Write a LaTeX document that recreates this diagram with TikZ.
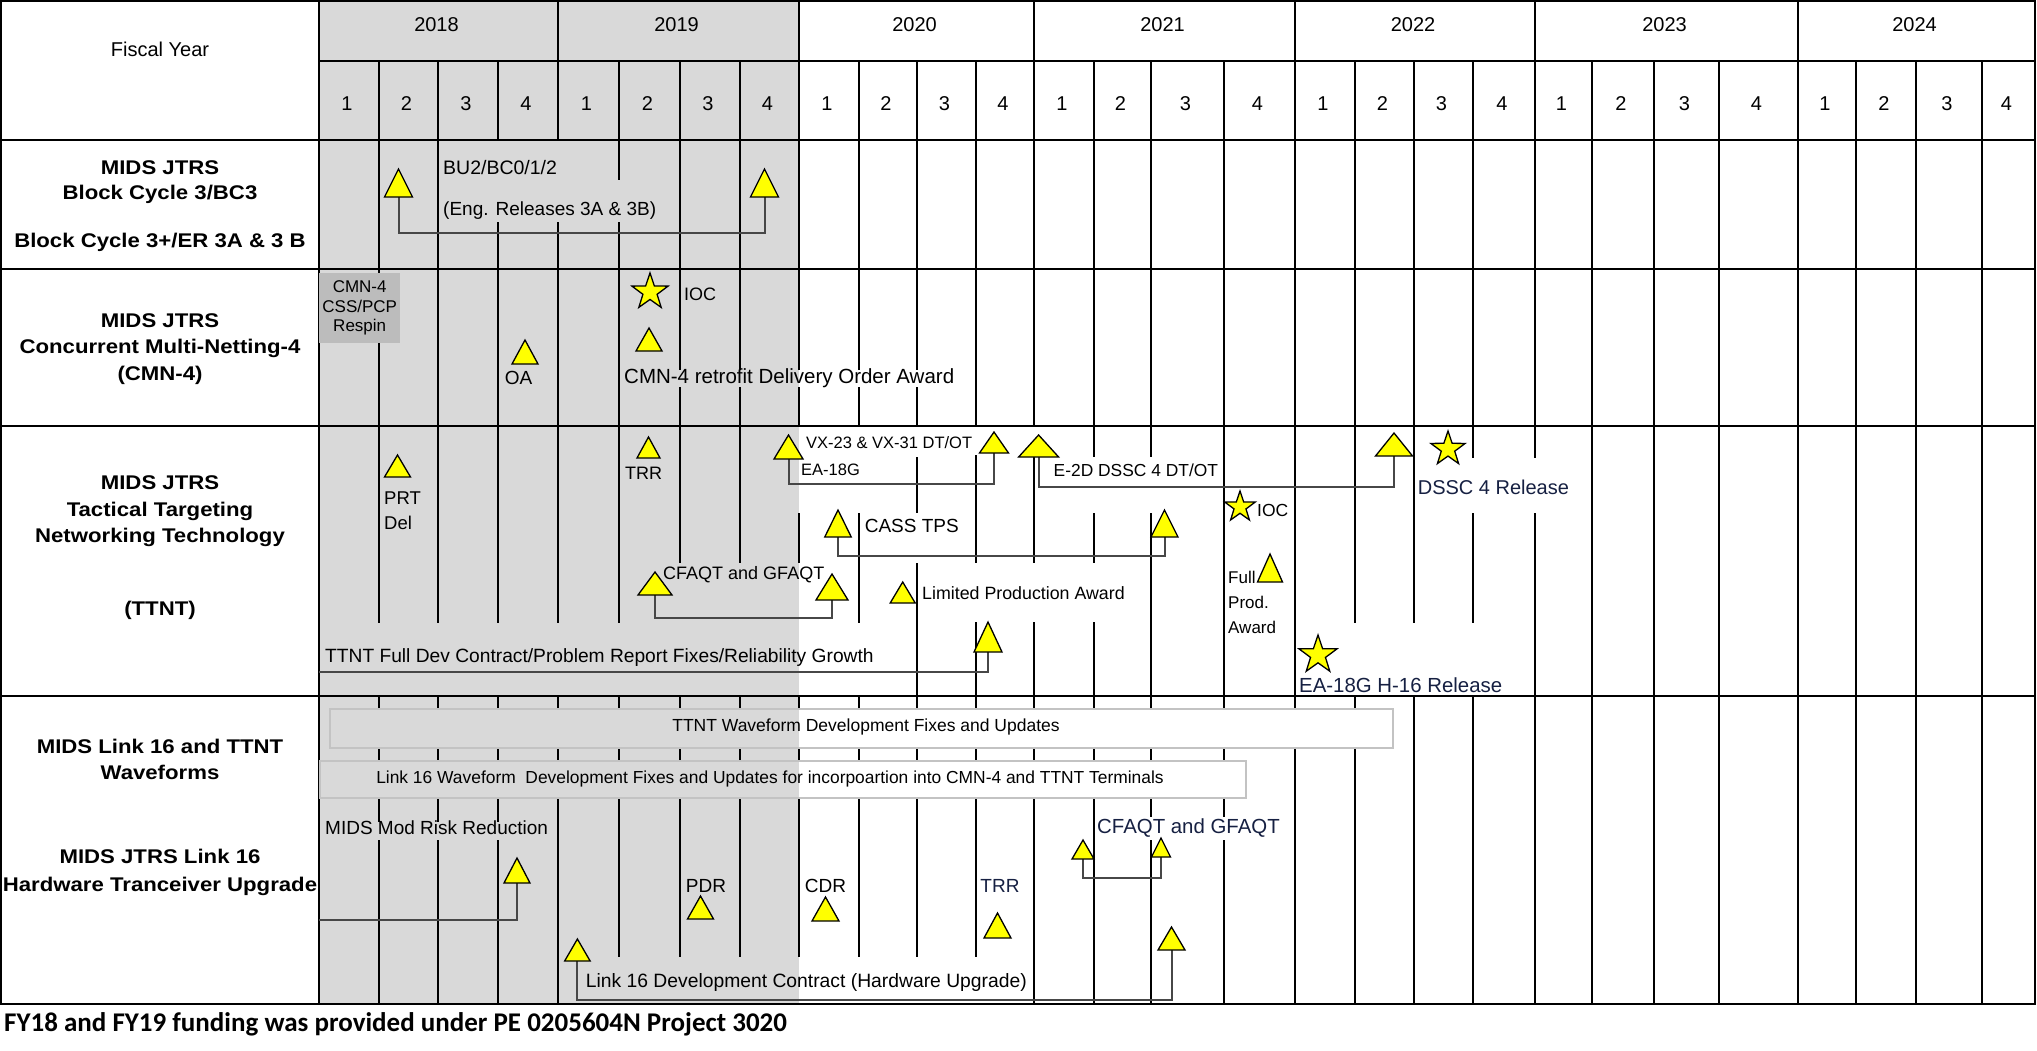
\documentclass[tikz,border=0pt]{standalone}
\usepackage{fontspec}
\setmainfont{Liberation Sans}
\newfontfamily\lblfam{Liberation Sans}[FakeStretch=1.12]
\newfontfamily\footfam{Carlito}
\usetikzlibrary{shapes.geometric}
\definecolor{bggray}{RGB}{217,217,217}
\definecolor{boxgray}{RGB}{188,188,188}
\definecolor{navy}{RGB}{22,32,66}
\definecolor{bargray}{RGB}{195,195,195}
\definecolor{myyellow}{RGB}{255,255,0}
\newcommand\fsz[1]{\fontsize{#1}{#1}\selectfont}
\newcommand\mtri[5]{%
  \coordinate (#1) at (#2,#3);
  \filldraw[tri] (#1) ++({-(#4)/2},0) -- ++({(#4)/2},{-(#5)}) -- ++({(#4)/2},{#5}) -- cycle;}
\begin{document}
\begin{tikzpicture}[x=1pt,y=-1pt,
  gridl/.style={line width=1.7pt},
  rowl/.style={line width=2.6pt},
  tri/.style={fill=myyellow,draw=black,line width=1.3pt,line join=miter},
  mstar/.style={star,star points=5,star point ratio=2.55,fill=myyellow,draw=black,line width=1.3pt,inner sep=0pt},
  brk/.style={draw=black!72,line width=2pt},
  lbl/.style={font=\lblfam\bfseries\fsz{19.8},inner sep=0pt,anchor=center},
  txt/.style={inner sep=0pt,anchor=west},
  ctr/.style={inner sep=0pt,anchor=center},
  bar/.style={draw=bargray,line width=2pt,inner sep=0pt,anchor=north west}]
\useasboundingbox (0,0) rectangle (2037,1050);
\fill[white] (0,0) rectangle (2037,1050);
\fill[bggray] (319,0) rectangle (799,1004);

% header grid
\foreach \x in {558,799,1034,1295,1535,1798} \draw[gridl] (\x,0) -- (\x,140);
\foreach \x in {379,438,498,619,680,740,859,917,976,1094,1151,1224,1355,1414,1473,1592,1654,1719,1856,1916,1982}
  \draw[gridl] (\x,61) -- (\x,140);
\draw[gridl] (319,61) -- (2035,61);

% body grid segments
\foreach \x/\a/\b in {
379/140/269, 438/140/269, 498/222/269, 558/222/269, 619/140/180, 619/222/269, 680/140/269, 740/140/269,
799/140/269, 859/140/269, 917/140/269,
379/269/426, 438/269/426, 498/269/426, 558/269/426, 619/269/426,
680/269/370, 680/387/426, 740/269/370, 740/387/426, 799/269/370, 799/387/426,
859/269/370, 859/387/426, 917/269/370, 917/387/426,
976/140/426, 1034/140/426, 1094/140/426, 1151/140/426, 1224/140/426, 1295/140/696,
1355/140/426, 1414/140/426, 1473/140/426, 1535/140/426,
1592/140/1004, 1654/140/1004, 1719/140/1004, 1798/140/1004, 1856/140/1004, 1916/140/1004, 1982/140/1004,
379/426/623, 438/426/623, 498/426/623, 558/426/623, 619/426/623,
680/426/563, 740/426/563, 799/513/563, 859/513/623,
917/457/513, 917/563/696, 976/455/563, 976/622/696, 1034/457/563, 1034/622/696,
1094/426/457, 1094/513/563, 1094/622/696, 1151/426/457, 1151/513/696, 1224/426/696,
1355/426/623, 1414/426/623, 1473/426/458, 1473/513/623, 1535/426/458, 1535/513/696,
379/797/822, 379/840/1004, 438/797/822, 438/840/1004, 498/797/822, 498/840/1004,
558/797/1004, 619/797/957, 680/797/957, 740/797/957, 799/797/957, 859/797/957, 917/797/957, 976/797/957,
1034/797/1004, 1094/797/1004, 1151/797/817, 1151/840/1004, 1224/797/817, 1224/840/1004,
1295/696/708, 1295/747/1004, 1355/696/708, 1355/747/1004, 1414/696/1004, 1473/696/1004, 1535/696/1004}
  \draw[gridl] (\x,\a) -- (\x,\b);
\foreach \x in {379,438,498,558,619,680,740,799,859,917,976,1034,1094,1151,1224}
  {\draw[gridl] (\x,696) -- (\x,708); \draw[gridl] (\x,747) -- (\x,760);}

% row separators and frame
\foreach \y in {140,269,426,696} \draw[rowl] (0,\y) -- (2035,\y);
\draw[rowl] (319,0) -- (319,1004);
\draw[rowl] (1,1) rectangle (2035,1004);

% header text
\node[ctr,font=\fsz{20}] (fy) at (160,49) {Fiscal Year};
\foreach \a/\b/\n in {319/558/2018, 558/799/2019, 799/1034/2020, 1034/1295/2021, 1295/1535/2022, 1535/1798/2023, 1798/2035/2024}
  \node[ctr,font=\fsz{20}] (y\n) at ({(\a+\b)/2-2},25) {\n};
\foreach \a/\b/\n [count=\i] in {319/379/1, 379/438/2, 438/498/3, 498/558/4, 558/619/1, 619/680/2, 680/740/3, 740/799/4,
  799/859/1, 859/917/2, 917/976/3, 976/1034/4, 1034/1094/1, 1094/1151/2, 1151/1224/3, 1224/1295/4,
  1295/1355/1, 1355/1414/2, 1414/1473/3, 1473/1535/4, 1535/1592/1, 1592/1654/2, 1654/1719/3, 1719/1798/4,
  1798/1856/1, 1856/1916/2, 1916/1982/3, 1982/2035/4}
  \node[ctr,font=\fsz{20}] (q\i) at ({(\a+\b)/2-2},104) {\n};

% left labels
\node[lbl] (l1a) at (160,168) {MIDS JTRS};
\node[lbl] (l1b) at (160,194) {Block Cycle 3/BC3};
\node[lbl] (l1c) at (160,242) {Block Cycle 3+/ER 3A \& 3 B};
\node[lbl] (l2a) at (160,321) {MIDS JTRS};
\node[lbl] (l2b) at (160,348) {Concurrent Multi-Netting-4};
\node[lbl] (l2c) at (160,375) {(CMN-4)};
\node[lbl] (l3a) at (160,483) {MIDS JTRS};
\node[lbl] (l3b) at (160,511) {Tactical Targeting};
\node[lbl] (l3c) at (160,537) {Networking Technology};
\node[lbl] (l3d) at (160,610) {(TTNT)};
\node[lbl] (l4a) at (160,746) {MIDS Link 16 and TTNT};
\node[lbl] (l4b) at (160,772) {Waveforms};
\node[lbl] (l4c) at (160,856) {MIDS JTRS Link 16};
\node[lbl] (l4d) at (160,886) {Hardware Tranceiver Upgrade};

% ---------- row 1
\coordinate (r1a) at (398.5,197); \coordinate (r1b) at (764.5,197);
\draw[brk] (r1a) -- ++(0,36) -| (r1b);
\mtri{r1a}{398.5}{197}{28}{28}
\mtri{r1b}{764.5}{197}{28}{28}
\node[txt,font=\fsz{19.5}] (bu2) at (443,168) {BU2/BC0/1/2};
\node[txt,font=\fsz{19}] (eng) at (443,211) {(Eng. Releases 3A \& 3B)};

% ---------- row 2
\node[fill=boxgray,minimum width=81,minimum height=70,inner sep=0pt,anchor=north west,align=center,
  font=\fontsize{17}{19.5}\selectfont] (cmnbox) at (319,273) {CMN-4\\CSS/PCP\\Respin};
\node[mstar,minimum size=38] (ioc2) at (650,292) {};
\node[txt,font=\fsz{18}] (ioc2t) at (684,294) {IOC};
\mtri{r2a}{649}{351}{26}{23}
\mtri{oa}{525}{364}{26}{24}
\node[ctr,font=\fsz{19}] (oat) at (518.5,378) {OA};
\node[txt,font=\fsz{20.5}] (cmnt) at (624,378) {CMN-4 retrofit Delivery Order Award};

% ---------- row 3
\mtri{prt}{397.5}{477}{26}{22}
\node[txt,font=\fsz{18.5}] (prtt) at (384,498) {PRT};
\node[txt,font=\fsz{18.5}] (delt) at (384,523) {Del};
\mtri{trr3}{648.5}{458}{23}{21}
\node[txt,font=\fsz{18}] (trr3t) at (625,473) {TRR};
% EA-18G bracket
\coordinate (ea) at (788.5,459); \coordinate (vx) at (994,453);
\draw[brk] (ea) -- ++(0,25) -| (vx);
\mtri{ea}{788.5}{459}{29}{24}
\mtri{vx}{994}{453}{29}{21}
\node[txt,font=\fsz{16.5}] (vxt) at (806,443) {VX-23 \& VX-31 DT/OT};
\node[txt,font=\fsz{16.5}] (eat) at (801,470) {EA-18G};
% E-2D bracket
\coordinate (e2d) at (1038.6,457); \coordinate (dssc) at (1394,456);
\draw[brk] (e2d) -- ++(0,30) -| (dssc);
\mtri{e2d}{1038.6}{457}{40}{22}
\mtri{dssc}{1394}{456}{37}{23}
\node[txt,font=\fsz{17.4}] (e2dt) at (1053.5,470) {E-2D DSSC 4 DT/OT};
\node[mstar,minimum size=36] (dsscs) at (1448,449) {};
\node[txt,font=\fsz{20},text=navy] (dssct) at (1417.6,487) {DSSC 4 Release};
% CASS
\coordinate (cass1) at (838,537); \coordinate (cass2) at (1164.5,537);
\draw[brk] (cass1) -- ++(0,19) -| (cass2);
\mtri{cass1}{838}{537}{26.5}{27}
\mtri{cass2}{1164.5}{537}{27}{27}
\node[txt,font=\fsz{19}] (casst) at (864.6,526) {CASS TPS};
% CFAQT row 3
\coordinate (cf1) at (655,595); \coordinate (cf2) at (832,600);
\draw[brk] (cf1) -- ++(0,23) -| (cf2);
\mtri{cf1}{655}{595}{34}{23}
\mtri{cf2}{832}{600}{32}{26}
\node[txt,font=\fsz{18}] (cft) at (663,575) {CFAQT and GFAQT};
% limited production
\mtri{lpa}{902.7}{603}{25}{21}
\node[txt,font=\fsz{17.8}] (lpat) at (922,593) {Limited Production Award};
% growth
\coordinate (g0) at (319,672); \coordinate (grw) at (988,652);
\draw[brk] (g0) -| (grw);
\mtri{grw}{988}{652}{28}{30}
\node[txt,font=\fsz{19.2}] (grwt) at (325,658) {TTNT Full Dev Contract/Problem Report Fixes/Reliability Growth};
% IOC / full prod
\node[mstar,minimum size=32] (ioc3) at (1240,507) {};
\node[txt,font=\fsz{17.5}] (ioc3t) at (1257,510) {IOC};
\mtri{fpa}{1270}{582}{25}{28}
\node[txt,font=\fsz{17}] (fpt1) at (1228,577) {Full};
\node[txt,font=\fsz{17}] (fpt2) at (1228,602) {Prod.};
\node[txt,font=\fsz{17}] (fpt3) at (1228,627) {Award};
\node[mstar,minimum size=40] (h16) at (1318,655) {};
\node[txt,font=\fsz{20.4},text=navy] (h16t) at (1299,685) {EA-18G H-16 Release};

% ---------- row 4
\node[bar,minimum width=1063,minimum height=39] (ttntbar) at (329,708) {};
\node[ctr,font=\fsz{17.5}] (ttntt) at (866,727) {TTNT Waveform Development Fixes and Updates};
\node[bar,minimum width=926,minimum height=37] (l16bar) at (319,760) {};
\node[ctr,font=\fsz{17.4}] (l16t) at (770,779) {Link 16 Waveform\ \ Development Fixes and Updates for incorpoartion into CMN-4 and TTNT Terminals};
\node[txt,font=\fsz{19}] (mmrt) at (325,828) {MIDS Mod Risk Reduction};
\coordinate (m0) at (319,920); \coordinate (mmr) at (517,883);
\draw[brk] (m0) -| (mmr);
\mtri{mmr}{517}{883}{26}{25}
\mtri{pdr}{700.5}{919}{26}{23}
\node[ctr,font=\fsz{19}] (pdrt) at (706,886) {PDR};
\mtri{cdr}{825.5}{921}{27}{24}
\node[ctr,font=\fsz{19}] (cdrt) at (825.5,886) {CDR};
\mtri{trr4}{997.5}{938}{27}{25}
\node[ctr,font=\fsz{19},text=navy] (trr4t) at (1000,886) {TRR};
\coordinate (cq1) at (1083,859); \coordinate (cq2) at (1161,857);
\draw[brk] (cq1) -- ++(0,19) -| (cq2);
\mtri{cq1}{1083}{859}{22}{19}
\mtri{cq2}{1161}{857}{19}{19}
\node[txt,font=\fsz{20.4},text=navy] (cqt) at (1097,828) {CFAQT and GFAQT};
\coordinate (la) at (577.4,961); \coordinate (lb) at (1171.5,950);
\draw[brk] (la) -- ++(0,39) -| (lb);
\mtri{la}{577.4}{961}{25.5}{22}
\mtri{lb}{1171.5}{950}{27}{23}
\node[txt,font=\fsz{19.3}] (lct) at (585.7,982) {Link 16 Development Contract (Hardware Upgrade)};

% footnote
\node[txt,font=\footfam\bfseries\fsz{27}] (foot) at (4,1024) {FY18 and FY19 funding was provided under PE 0205604N Project 3020};
\end{tikzpicture}
\end{document}
